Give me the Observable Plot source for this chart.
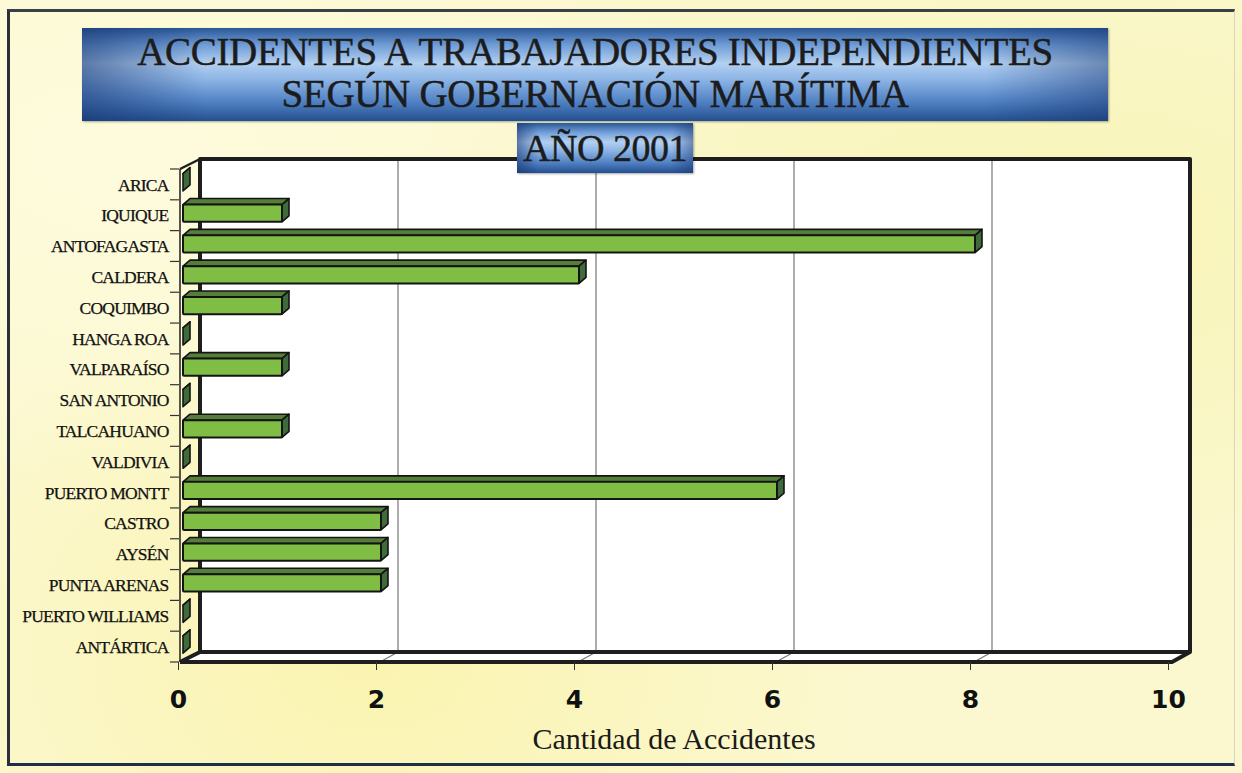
<!DOCTYPE html>
<html>
<head>
<meta charset="utf-8">
<script src="https://cdn.jsdelivr.net/npm/d3@7"></script>
<script src="https://cdn.jsdelivr.net/npm/@observablehq/plot@0.6"></script>
<style>
  html, body { margin: 0; padding: 0; background: #fdfbe0; }
  #page {
    position: relative; width: 1242px; height: 773px; overflow: hidden;
    background:
      radial-gradient(ellipse at 30% 85%, rgba(250,240,150,0.55), rgba(250,240,150,0) 40%),
      radial-gradient(ellipse at 85% 30%, rgba(245,240,160,0.5), rgba(245,240,160,0) 45%),
      radial-gradient(ellipse at 10% 20%, rgba(255,252,225,0.8), rgba(255,252,225,0) 40%),
      #fbf8cf;
  }
  #frameBox {
    position: absolute; left: 7px; top: 9px; width: 1228px; height: 757px;
    border-left: 3px solid #2b2f3a; border-top: 3px solid #3a3f48;
    border-bottom: 3px solid #1f2e4a; border-right: 1px solid #d8d6c0;
    box-sizing: border-box; pointer-events: none;
  }
  #chart { position: absolute; left: 0; top: 0; }
  .tbox {
    position: absolute;
    background:
      linear-gradient(90deg, rgba(20,50,110,0.55) 0%, rgba(20,50,110,0) 12%, rgba(20,50,110,0) 88%, rgba(20,50,110,0.45) 100%),
      linear-gradient(180deg, #2a5898 0%, #6f9cd6 18%, #b3d0f0 38%, #8db5e6 55%, #4f80c2 80%, #244f8f 100%);
    box-shadow: 1px 1px 2px rgba(0,0,0,0.35);
    color: #1c1c1c;
    font-family: "Liberation Serif", "DejaVu Serif", serif;
    text-align: center;
    -webkit-text-stroke: 0.5px #1c1c1c;
    white-space: nowrap;
  }
  #title {
    left: 82px; top: 28px; width: 1026px; height: 93px;
    font-size: 39px; line-height: 42px; padding-top: 3px; box-sizing: border-box;
    letter-spacing: -0.3px;
  }
  #subtitle {
    left: 517px; top: 123px; width: 176px; height: 50px;
    font-size: 38px; line-height: 50px; z-index: 2; letter-spacing: -0.5px;
  }
  #xtitle {
    position: absolute; left: 0; width: 1348px; top: 722px; text-align: center;
    font-family: "Liberation Serif", "DejaVu Serif", serif; font-size: 30px; color: #1a1a1a;
  }
</style>
</head>
<body>
<div id="page">
  <div id="chart"></div>
  <div class="tbox" id="title">ACCIDENTES A TRABAJADORES INDEPENDIENTES<br>SEGÚN GOBERNACIÓN MARÍTIMA</div>
  <div class="tbox" id="subtitle">AÑO 2001</div>
  <div id="xtitle">Cantidad de Accidentes</div>
  <div id="frameBox"></div>
</div>
<script>
// ---- data ----
const categories = ["ARICA", "IQUIQUE", "ANTOFAGASTA", "CALDERA", "COQUIMBO", "HANGA ROA",
  "VALPARAÍSO", "SAN ANTONIO", "TALCAHUANO", "VALDIVIA", "PUERTO MONTT", "CASTRO",
  "AYSÉN", "PUNTA ARENAS", "PUERTO WILLIAMS", "ANTÁRTICA"];
const values = [0, 1, 8, 4, 1, 0, 1, 0, 1, 0, 6, 2, 2, 2, 0, 0];
const xTicks = [0, 2, 4, 6, 8, 10];
const xDomain = [0, 10];

const data = categories.map((c, i) => ({name: c, value: values[i]}));

const DX = 18, DY = -10;      // chart depth
const BX = 7, BY = -6;        // bar depth
const BAR_FRAC = 0.56;        // bar front-face height as share of the row step
const ns = "http://www.w3.org/2000/svg";

function el(tag, attrs) {
  const e = document.createElementNS(ns, tag);
  for (const k in attrs) e.setAttribute(k, attrs[k]);
  return e;
}

// band geometry taken from Plot's own y scale
function bandInfo(scales, dims) {
  const y = scales.y;
  const top = dims.marginTop, bot = dims.height - dims.marginBottom;
  const bw = typeof y.bandwidth === "function" ? y.bandwidth() : 0;
  const step = typeof y.step === "function" ? y.step() : (bot - top) / categories.length;
  const center = (name) => y(name) + bw / 2;
  return {top, bot, step, center};
}

// walls, floor, gridlines
function walls(index, scales, values, dims) {
  const g = el("g", {});
  const x = scales.x;
  const {top, bot, step, center} = bandInfo(scales, dims);
  const x0 = x(xDomain[0]), x1 = x(xDomain[1]);
  g.appendChild(el("rect", {x: x0 + DX, y: top + DY, width: x1 - x0, height: bot - top, fill: "#ffffff"}));
  g.appendChild(el("polygon", {points: `${x0},${bot} ${x0 + DX},${bot + DY} ${x1 + DX},${bot + DY} ${x1},${bot}`,
    fill: "#ffffff", stroke: "none"}));
  for (const t of xTicks.slice(1, -1)) {
    g.appendChild(el("line", {x1: x(t) + DX, x2: x(t) + DX, y1: top + DY, y2: bot + DY, stroke: "#777", "stroke-width": 1.2}));
    g.appendChild(el("line", {x1: x(t) + DX, x2: x(t), y1: bot + DY, y2: bot, stroke: "#777", "stroke-width": 1.2}));
  }
  g.appendChild(el("path", {d: `M${x0 + DX},${bot + DY} V${top + DY} H${x1 + DX} V${bot + DY} H${x0 + DX}`,
    fill: "none", stroke: "#1e1e1e", "stroke-width": 4, "stroke-linejoin": "round"}));
  g.appendChild(el("path", {d: `M${x0 - 2},${top} L${x0 + DX},${top + DY}`, fill: "none", stroke: "#1e1e1e", "stroke-width": 2.5}));
  g.appendChild(el("path", {d: `M${x0 - 2},${top} V${bot}`, fill: "none", stroke: "#1e1e1e", "stroke-width": 1.5}));
  g.appendChild(el("path", {d: `M${x0 - 2},${bot} L${x0 + DX},${bot + DY} M${x0 - 2},${bot} H${x1} L${x1 + DX},${bot + DY}`,
    fill: "none", stroke: "#1e1e1e", "stroke-width": 4, "stroke-linejoin": "round"}));
  const bounds = categories.map(c => center(c) - step / 2).concat([center(categories[categories.length - 1]) + step / 2]);
  for (const yy of bounds) {
    g.appendChild(el("line", {x1: x0 - 12, x2: x0 - 3, y1: yy, y2: yy, stroke: "#333", "stroke-width": 1.2}));
  }
  return g;
}

// 3D bars
function bars3d(index, scales, values, dims) {
  const g = el("g", {});
  const x = scales.x;
  const {step, center} = bandInfo(scales, dims);
  const bw = step * BAR_FRAC;
  for (const d of data) {
    const xa = x(0) + 1, xb = x(d.value) + 1;
    const ya = center(d.name) - bw * 0.62, yb = ya + bw;
    g.appendChild(el("polygon", {points: `${xa},${ya} ${xa + BX},${ya + BY} ${xb + BX},${ya + BY} ${xb},${ya}`,
      fill: "#557f38", stroke: "#141414", "stroke-width": 1.6, "stroke-linejoin": "round"}));
    g.appendChild(el("polygon", {points: `${xb},${ya} ${xb + BX},${ya + BY} ${xb + BX},${yb + BY} ${xb},${yb}`,
      fill: "#3f6a3a", stroke: "#141414", "stroke-width": 1.6, "stroke-linejoin": "round"}));
    if (d.value > 0)
      g.appendChild(el("rect", {x: xa, y: ya, width: xb - xa, height: bw,
        fill: "#80bd45", stroke: "#141414", "stroke-width": 2, rx: 1}));
  }
  return g;
}

const chart = Plot.plot({
  width: 1242,
  height: 773,
  marginLeft: 182,
  marginRight: 70,
  marginTop: 169,
  marginBottom: 111,
  style: {background: "transparent", overflow: "visible"},
  x: {domain: xDomain, axis: null},
  y: {type: "band", domain: categories, paddingInner: 0, paddingOuter: 0, round: false, axis: null},
  marks: [
    walls,
    bars3d,
    Plot.axisX({
      ticks: xTicks, anchor: "bottom", tickSize: 8, tickPadding: 20, dx: -4,
      label: null, fontSize: 25, fontWeight: "bold", fontFamily: "DejaVu Sans, sans-serif",
      stroke: "#333", color: "#111"
    }),
    Plot.axisY({
      anchor: "left", tickSize: 0, tickPadding: 14, label: null,
      fontSize: 17.5, fontFamily: "Liberation Serif, DejaVu Serif, serif", color: "#111"
    })
  ]
});
document.getElementById("chart").appendChild(chart);
chart.querySelectorAll("g[aria-label='y-axis tick label'] text").forEach(t => {
  t.setAttribute("letter-spacing", "-0.8");
  t.setAttribute("stroke", "#111");
  t.setAttribute("stroke-width", "0.25");
});
</script>
</body>
</html>
